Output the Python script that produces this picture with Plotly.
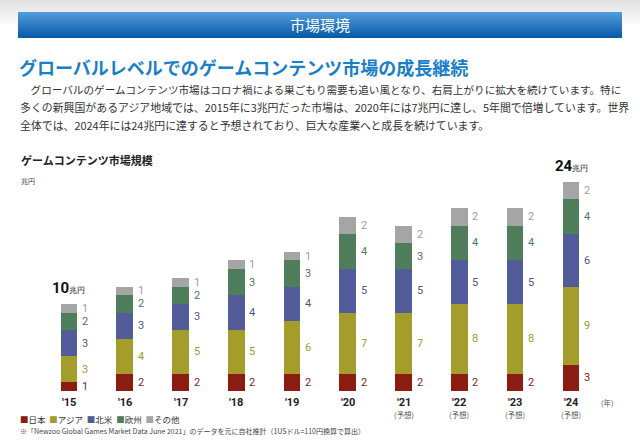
import plotly.graph_objects as go

# ---------------- data ----------------
years = ["'15", "'16", "'17", "'18", "'19", "'20", "'21", "'22", "'23", "'24"]
forecast = [False, False, False, False, False, False, True, True, True, True]
japan = [1, 2, 2, 2, 2, 2, 2, 2, 2, 3]
asia = [3, 4, 5, 5, 6, 7, 7, 8, 8, 9]
north_america = [3, 3, 3, 4, 4, 5, 5, 5, 5, 6]
europe = [2, 2, 2, 3, 3, 4, 3, 4, 4, 4]
others = [1, 1, 1, 1, 1, 2, 2, 2, 2, 2]
series_names = ["日本", "アジア", "北米", "欧州", "その他"]
total_labels = {0: "10", 9: "24"}

# ---------------- styling ----------------
W, H = 640, 448
JP = "Noto Sans CJK JP"
NUM = "Roboto"
bar_colors = ["#8c1d12", "#a59d2b", "#525c98", "#4f7e5b", "#a5a5a5"]
label_colors = ["#8a2318", "#a39a2c", "#4b5493", "#4a7a57", "#9c9c9c"]


def py(px):
    return 1 - px / H


def px_x(px):
    return px / W


series = [japan, asia, north_america, europe, others]
x = list(range(len(years)))

fig = go.Figure()
for name, vals, col in zip(series_names, series, bar_colors):
    fig.add_trace(go.Bar(x=x, y=vals, name=name, marker=dict(color=col, line=dict(width=0)),
                         width=0.298, showlegend=False, hoverinfo="skip"))

ann = []
# segment value labels
base = [0] * len(x)
for vals, lc in zip(series, label_colors):
    for i, v in enumerate(vals):
        ann.append(dict(x=i, y=base[i] + v / 2, xref="x", yref="y", text=str(v),
                        showarrow=False, xanchor="left", yanchor="middle", xshift=11,
                        font=dict(family=NUM, size=11, color=lc)))
        base[i] += v
# totals
for i, t in total_labels.items():
    ann.append(dict(x=i, y=base[i], xref="x", yref="y",
                    text=f"<b>{t}</b><span style='font-size:8px'>兆円</span>",
                    showarrow=False, xanchor="center", yanchor="bottom", yshift=5,
                    font=dict(family=NUM, size=15, color="#111")))
# year labels
for i, yl in enumerate(years):
    ann.append(dict(x=i, y=py(402), xref="x", yref="paper", text=f"<b>{yl}</b>",
                    showarrow=False, xanchor="center", yanchor="middle",
                    font=dict(family=NUM, size=11, color="#222")))
    if forecast[i]:
        ann.append(dict(x=i, y=py(414), xref="x", yref="paper", text="(予想)",
                        showarrow=False, xanchor="center", yanchor="middle",
                        font=dict(family=JP, size=7.5, color="#555")))
ann.append(dict(x=px_x(607), y=py(402), xref="paper", yref="paper", text="(年)",
                showarrow=False, xanchor="center", yanchor="middle",
                font=dict(family=JP, size=7.5, color="#555")))

# header
ann.append(dict(x=0.5, y=py(25), xref="paper", yref="paper", text="市場環境",
                showarrow=False, xanchor="center", yanchor="middle",
                font=dict(family=JP, size=15, color="white")))
ann.append(dict(x=px_x(17), y=py(67), xref="paper", yref="paper",
                text="<b>グローバルレベルでのゲームコンテンツ市場の成長継続</b>",
                showarrow=False, xanchor="left", yanchor="middle",
                font=dict(family=JP, size=18, color="#1a7fc8")))
para = [
    "　グローバルのゲームコンテンツ市場はコロナ禍による巣ごもり需要も追い風となり、右肩上がりに拡大を続けています。特に",
    "多くの新興国があるアジア地域では、2015年に3兆円だった市場は、2020年には7兆円に達し、5年間で倍増しています。世界",
    "全体では、2024年には24兆円に達すると予想されており、巨大な産業へと成長を続けています。",
]
para_sizes = [10.6, 10.9, 10.9]
for k, (line, fs) in enumerate(zip(para, para_sizes)):
    ann.append(dict(x=px_x(18), y=py(89 + 18 * k), xref="paper", yref="paper", text=line,
                    showarrow=False, xanchor="left", yanchor="middle",
                    font=dict(family=JP, size=fs, color="#333")))
ann.append(dict(x=px_x(19), y=py(160), xref="paper", yref="paper",
                text="<b>ゲームコンテンツ市場規模</b>", showarrow=False,
                xanchor="left", yanchor="middle", font=dict(family=JP, size=11, color="#222")))
ann.append(dict(x=px_x(19), y=py(181), xref="paper", yref="paper", text="兆円",
                showarrow=False, xanchor="left", yanchor="middle",
                font=dict(family=JP, size=7, color="#444")))
# legend
leg = "  ".join(f"<span style='color:{c}'>■</span>{n}" for n, c in zip(series_names, bar_colors))
ann.append(dict(x=px_x(18), y=py(419), xref="paper", yref="paper", text=leg,
                showarrow=False, xanchor="left", yanchor="middle",
                font=dict(family=JP, size=8.5, color="#333")))
ann.append(dict(x=px_x(18), y=py(431), xref="paper", yref="paper",
                text="※「Newzoo Global Games Market Data June 2021」のデータを元に自社推計（1USドル=110円換算で算出）",
                showarrow=False, xanchor="left", yanchor="middle",
                font=dict(family=JP, size=7, color="#444")))

shapes = []
# top gray photo background
gsteps = 12
for k in range(gsteps):
    g = int(226 + (250 - 226) * k / (gsteps - 1))
    shapes.append(dict(type="rect", xref="paper", yref="paper", x0=0, x1=1,
                       y0=py(2 * (k + 1)), y1=py(2 * k), line=dict(width=0),
                       fillcolor=f"rgb({g},{g},{g})", layer="below"))
# header gradient band
top_c, bot_c = (80, 155, 218), (10, 92, 168)
n = 13
y0, y1 = 12, 38
for k in range(n):
    t = k / (n - 1)
    c = tuple(int(a + (b - a) * t) for a, b in zip(top_c, bot_c))
    ya = y0 + (y1 - y0) * k / n
    yb = y0 + (y1 - y0) * (k + 1) / n
    shapes.append(dict(type="rect", xref="paper", yref="paper", x0=px_x(18), x1=px_x(622),
                       y0=py(yb), y1=py(ya), line=dict(width=0),
                       fillcolor=f"rgb{c}", layer="below"))

fig.update_layout(
    width=W, height=H, margin=dict(l=0, r=0, t=0, b=0),
    paper_bgcolor="white", plot_bgcolor="rgba(0,0,0,0)",
    barmode="stack", bargap=0,
    xaxis=dict(domain=[41.1 / W, 598.9 / W], range=[-0.5, 9.5], visible=False, fixedrange=True),
    yaxis=dict(domain=[py(391), py(182)], range=[0, 24], visible=False, fixedrange=True),
    annotations=ann, shapes=shapes, font=dict(family=JP),
)
fig.write_html("out.html")
